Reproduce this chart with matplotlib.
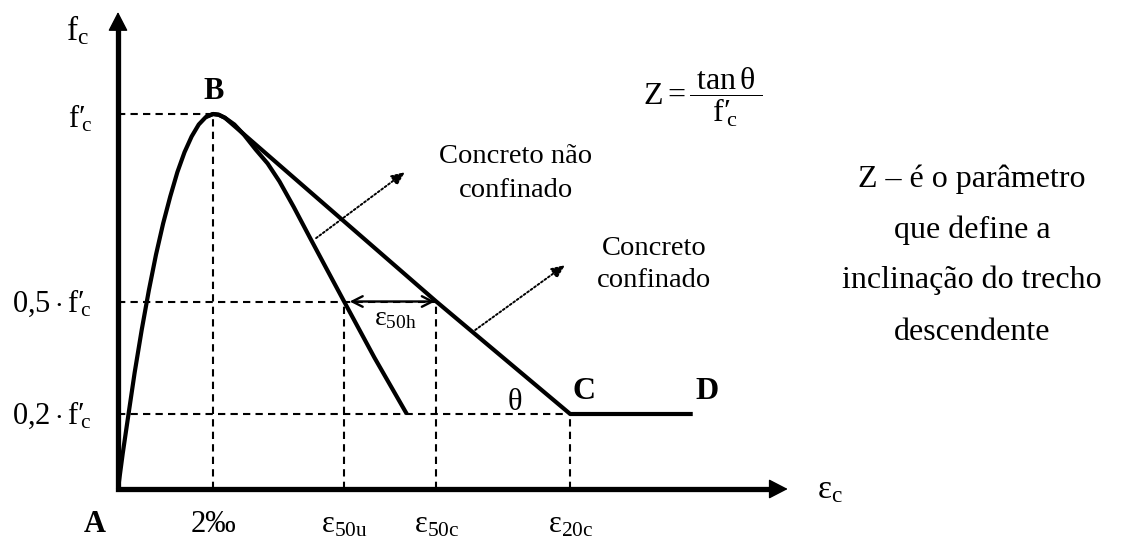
import numpy as np
import matplotlib
matplotlib.use("Agg")
import matplotlib.pyplot as plt

plt.rcParams['font.family'] = 'Liberation Serif'
plt.rcParams['mathtext.fontset'] = 'custom'
plt.rcParams['mathtext.rm'] = 'Liberation Serif'
plt.rcParams['mathtext.it'] = 'Liberation Serif:italic'
plt.rcParams['mathtext.bf'] = 'Liberation Serif:bold'

# deformacoes (por mil) e tensoes relativas (fc / f'c)
eps_0 = 2.0
eps_50u = 4.76
eps_50c = 6.70
eps_20c = 9.52
eps_D = 12.1
nivel_pico = 1.0
nivel_50 = 0.5
nivel_20 = 0.2

# concreto nao confinado: trecho ascendente + descendente
eps_nc = [0.0, 0.1, 0.21, 0.35, 0.5, 0.65, 0.8, 0.95, 1.1, 1.25, 1.4, 1.55, 1.7, 1.85,
          2.0, 2.12, 2.25, 2.45, 2.65, 2.9, 3.15, 3.4, 3.7, 4.05, 4.4, 4.76, 5.4, 6.08]
fc_nc = [0.0, 0.095, 0.19, 0.31, 0.425, 0.53, 0.625, 0.708, 0.78, 0.845, 0.898, 0.94, 0.972, 0.992,
         1.0, 0.998, 0.99, 0.972, 0.945, 0.905, 0.868, 0.82, 0.752, 0.668, 0.585, 0.5, 0.35, 0.2]

# concreto confinado: topo comum, reta ate C e patamar C-D
eps_conf = [1.85, 2.0, 2.12, 2.25, eps_50c, eps_20c, eps_D]
fc_conf = [0.992, nivel_pico, 0.998, 0.99, nivel_50, nivel_20, nivel_20]

fig = plt.figure(figsize=(11.32, 5.43), dpi=100)
ax = fig.add_axes([0, 0, 1, 1])
ax.set_xlim(-118 / 47.5, (1132 - 118) / 47.5)
ax.set_ylim(-54 / 375, 489 / 375)
ax.axis('off')

# eixos com setas
y_top = 1.272
x_end = 14.1
ax.plot([0, 0, x_end - 0.25], [y_top - 0.03, 0, 0], color='k', lw=3.8,
        solid_joinstyle='miter', solid_capstyle='butt')
cabeca = dict(arrowstyle='-|>,head_length=12,head_width=6.2', mutation_scale=1,
              color='k', lw=1, shrinkA=0, shrinkB=0)
ax.annotate('', xy=(0, y_top), xytext=(0, y_top - 0.06), arrowprops=cabeca)
ax.annotate('', xy=(x_end, 0), xytext=(x_end - 0.4, 0), arrowprops=cabeca)

# linhas de chamada tracejadas
tr = dict(color='k', lw=1.5, linestyle=(0, (3.5, 2.5)))
ax.plot([0, eps_0], [nivel_pico, nivel_pico], **tr)
ax.plot([eps_0, eps_0], [0, nivel_pico], **tr)
ax.plot([0, eps_50c], [nivel_50, nivel_50], **tr)
ax.plot([eps_50u, eps_50u], [0, nivel_50], **tr)
ax.plot([eps_50c, eps_50c], [0, nivel_50], **tr)
ax.plot([0, eps_20c], [nivel_20, nivel_20], **tr)
ax.plot([eps_20c, eps_20c], [0, nivel_20], **tr)

# curvas
ax.plot(eps_nc, fc_nc, color='k', lw=3, solid_joinstyle='round', solid_capstyle='butt')
ax.plot(eps_conf, fc_conf, color='k', lw=3, solid_joinstyle='round', solid_capstyle='butt')

# seta dupla eps50h
ax.annotate('', xy=(eps_50c, nivel_50), xytext=(eps_50u, nivel_50),
            arrowprops=dict(arrowstyle='<->,head_length=7.5,head_width=3.8',
                            mutation_scale=1, color='k', lw=1.7,
                            shrinkA=4, shrinkB=1))

# setas pontilhadas indicando as curvas
pont = dict(arrowstyle='-|>,head_length=8,head_width=3.5', mutation_scale=1,
            color='k', lw=1.4, linestyle=(0, (1, 1.2)), shrinkA=0, shrinkB=0)
ax.annotate('', xy=(6.04, 0.845), xytext=(4.17, 0.669), arrowprops=pont)
ax.annotate('', xy=(9.41, 0.597), xytext=(7.52, 0.424), arrowprops=pont)

# f'c com a linha sobre o indice
fl = r'\mathrm{f′}\!{}_{\mathrm{c}}'

# textos dos eixos
ax.text(-0.86, 1.224, r'$\mathrm{f}_{\mathrm{c}}$', fontsize=24, ha='center', va='center')
ax.text(14.72, -0.024, r'$\mathrm{\varepsilon}_{\mathrm{c}}$', fontsize=24, ha='left', va='baseline')

x_lab = -0.55
ax.text(x_lab, nivel_pico - 0.035, '$' + fl + '$', fontsize=22, ha='right', va='baseline')
ax.text(x_lab, nivel_50 - 0.027, r'$\mathrm{0{,}5}\cdot' + fl + '$', fontsize=22, ha='right', va='baseline')
ax.text(x_lab, nivel_20 - 0.027, r'$\mathrm{0{,}2}\cdot' + fl + '$', fontsize=22, ha='right', va='baseline')

y_lab = -0.115
ax.text(-0.5, y_lab, 'A', fontsize=22, fontweight='bold', ha='center', va='baseline')
ax.text(eps_0, y_lab, '2‰', fontsize=22, ha='center', va='baseline')
ax.text(eps_50u, y_lab, r'$\mathrm{\varepsilon}_{\mathrm{50u}}$', fontsize=22, ha='center', va='baseline')
ax.text(eps_50c, y_lab, r'$\mathrm{\varepsilon}_{\mathrm{50c}}$', fontsize=22, ha='center', va='baseline')
ax.text(eps_20c, y_lab, r'$\mathrm{\varepsilon}_{\mathrm{20c}}$', fontsize=22, ha='center', va='baseline')

# pontos notaveis
ax.text(eps_0 + 0.02, nivel_pico + 0.06, 'B', fontsize=22, fontweight='bold', ha='center', va='center')
ax.text(eps_20c + 0.05, nivel_20 + 0.04, 'C', fontsize=23, fontweight='bold', ha='left', va='baseline')
ax.text(eps_D + 0.05, nivel_20 + 0.04, 'D', fontsize=23, fontweight='bold', ha='left', va='baseline')
ax.text(8.34, nivel_20 + 0.012, r'$\mathrm{\theta}$', fontsize=22, ha='center', va='baseline')
ax.text(5.85, 0.437, r'$\mathrm{\varepsilon}_{\mathrm{50h}}$', fontsize=20, ha='center', va='baseline')

# legendas das curvas
ax.text(8.38, 0.869, 'Concreto não', fontsize=20.5, ha='center', va='baseline')
ax.text(8.38, 0.779, 'confinado', fontsize=20.5, ha='center', va='baseline')
ax.text(11.28, 0.624, 'Concreto', fontsize=20.5, ha='center', va='baseline')
ax.text(11.28, 0.539, 'confinado', fontsize=20.5, ha='center', va='baseline')

# definicao de Z
ax.text(12.32, 1.045,
        r'$\mathrm{Z}\mathrm{=}\dfrac{\;\mathrm{tan}\,\mathrm{\theta}\;}{' + fl + '}$',
        fontsize=23, ha='center', va='center')
linhas = ['Z – é o parâmetro', 'que define a', 'inclinação do trecho', 'descendente']
for txt, yb in zip(linhas, [0.805, 0.669, 0.536, 0.397]):
    ax.text(17.98, yb, txt, fontsize=23, ha='center', va='baseline')

fig.savefig('out.png', dpi=100)
